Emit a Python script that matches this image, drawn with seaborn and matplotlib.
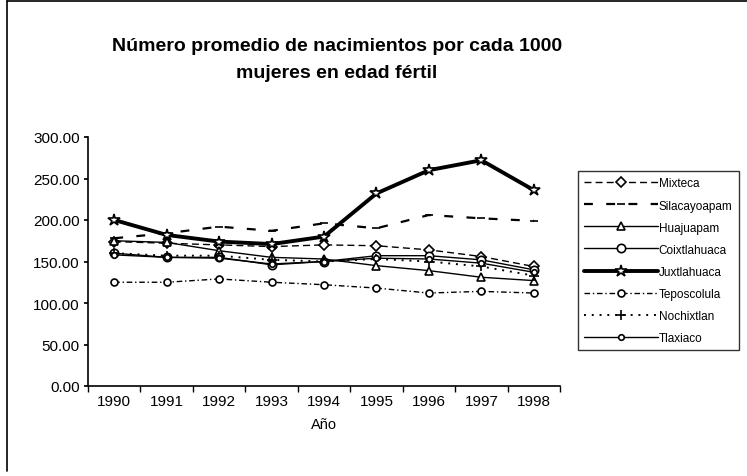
import numpy as np
import matplotlib
matplotlib.use("Agg")
import matplotlib.pyplot as plt
import matplotlib.lines as mlines
import pandas as pd
import seaborn as sns

years = [1990, 1991, 1992, 1993, 1994, 1995, 1996, 1997, 1998]
mixteca = [174, 172, 170, 168, 170, 169, 164, 156, 144]
silacayoapam = [178, 184, 192, 187, 196, 190, 206, 202, 199]
huajuapam = [175, 173, 163, 155, 153, 145, 139, 131, 127]
coixtlahuaca = [160, 155, 155, 146, 150, 157, 157, 152, 140]
juxtlahuaca = [200, 182, 174, 171, 180, 232, 260, 272, 236]
teposcolula = [125, 125, 129, 125, 122, 118, 112, 114, 112]
nochixtlan = [160, 157, 157, 152, 150, 153, 150, 144, 133]
tlaxiaco = [158, 155, 154, 147, 150, 154, 153, 148, 137]

series = {
    "Mixteca": mixteca,
    "Silacayoapam": silacayoapam,
    "Huajuapam": huajuapam,
    "Coixtlahuaca": coixtlahuaca,
    "Juxtlahuaca": juxtlahuaca,
    "Teposcolula": teposcolula,
    "Nochixtlan": nochixtlan,
    "Tlaxiaco": tlaxiaco,
}

# line look per region: (linestyle, marker, linewidth, markersize)
styles = {
    "Mixteca": ((0, (5, 3)), "D", 1.0, 5),
    "Silacayoapam": ((0, (4, 6)), "_", 1.6, 6),
    "Huajuapam": ("-", "^", 1.0, 6),
    "Coixtlahuaca": ("-", "o", 1.0, 6),
    "Juxtlahuaca": ("-", "*", 2.8, 9),
    "Teposcolula": ((0, (4, 2, 1, 2)), "o", 1.0, 5),
    "Nochixtlan": ((0, (1, 3)), "+", 1.4, 7),
    "Tlaxiaco": ("-", "o", 1.0, 4),
}

sns.set_theme(style="white")
plt.rcParams["font.family"] = ["Liberation Sans", "DejaVu Sans"]
plt.rcParams["text.color"] = "black"
plt.rcParams["xtick.color"] = "black"
plt.rcParams["ytick.color"] = "black"
plt.rcParams["axes.labelcolor"] = "black"

fig = plt.figure(figsize=(7.47, 4.77), dpi=100)
ax = fig.add_axes([88 / 747, 1 - 387 / 477, (560 - 88) / 747, (387 - 138) / 477])

handles = []
for name, vals in series.items():
    ls, mk, lw, ms = styles[name]
    df = pd.DataFrame({"year": years, "value": vals})
    sns.lineplot(data=df, x="year", y="value", ax=ax, color="black",
                 linestyle=ls, linewidth=lw, marker=mk, markersize=ms,
                 markerfacecolor="white", markeredgecolor="black",
                 markeredgewidth=1.2, legend=False)
    handles.append(mlines.Line2D([], [], color="black", linestyle=ls,
                                 linewidth=lw, marker=mk, markersize=ms,
                                 markerfacecolor="white",
                                 markeredgecolor="black",
                                 markeredgewidth=1.2, label=name))

ax.set_xlim(years[0] - 0.5, years[-1] + 0.5)
ax.set_ylim(0, 300)
ax.set_xticks(years)
ax.set_xticklabels([str(y) for y in years])
ax.set_xticks(np.arange(years[0] - 0.5, years[-1] + 1, 1), minor=True)
ax.tick_params(axis="x", which="major", length=0, pad=6, labelsize=11)
ax.tick_params(axis="x", which="minor", length=4, direction="out", color="black")
ax.set_yticks(np.arange(0, 301, 50))
ax.set_yticklabels([f"{v:.2f}" for v in np.arange(0, 301, 50)])
ax.tick_params(axis="y", length=3, direction="out", color="black", labelsize=11, pad=3)
ax.yaxis.set_ticks_position("left")
ax.xaxis.set_ticks_position("bottom")
for side in ["top", "right"]:
    ax.spines[side].set_visible(False)
for side in ["left", "bottom"]:
    ax.spines[side].set_color("black")
    ax.spines[side].set_linewidth(1.2)
ax.grid(False)
ax.set_xlabel("Año", fontsize=10.5, labelpad=6)
ax.set_ylabel("")

fig.text(337 / 747, 1 - 60 / 477,
         "Número promedio de nacimientos por cada 1000\nmujeres en edad fértil",
         ha="center", va="center", fontsize=14, fontweight="bold",
         linespacing=1.75, color="black")

leg = fig.legend(handles=handles, loc="upper left",
                 bbox_to_anchor=(578 / 747, 1 - 172 / 477),
                 frameon=True, fancybox=False, edgecolor="black",
                 fontsize=8.5, handlelength=6.2, handletextpad=0.1,
                 labelspacing=0.85, borderpad=0.55, borderaxespad=0)
leg.get_frame().set_linewidth(1.0)

# outer chart border
fig.add_artist(mlines.Line2D([7 / 747, 7 / 747], [0.01, 1 - 2 / 477],
                             color="black", linewidth=1.2,
                             transform=fig.transFigure))
fig.add_artist(mlines.Line2D([7 / 747, 1.0], [1 - 2 / 477, 1 - 2 / 477],
                             color="black", linewidth=1.2,
                             transform=fig.transFigure))

fig.savefig("out.png", dpi=100, facecolor="white")
